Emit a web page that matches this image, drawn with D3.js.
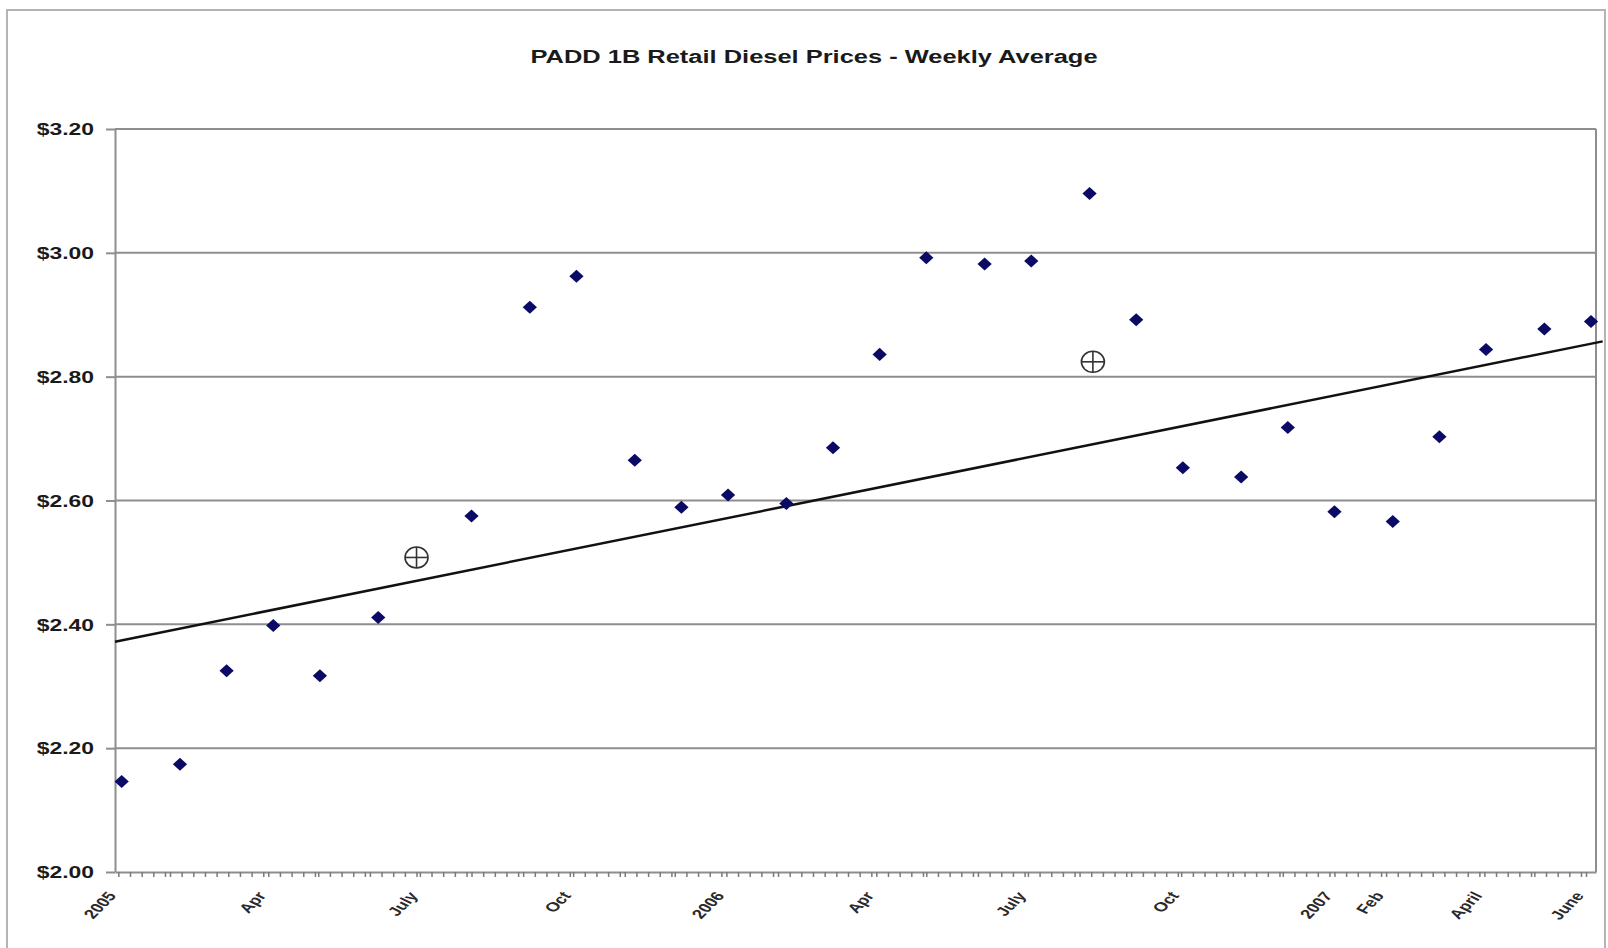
<!DOCTYPE html>
<html>
<head>
<meta charset="utf-8">
<script src="https://d3js.org/d3.v7.min.js"></script>
<style>
  html, body { margin: 0; padding: 0; background: #ffffff; }
  svg { display: block; font-family: "Liberation Sans", Arial, sans-serif; }
</style>
</head>
<body>
<script>
// Weekly retail diesel price, first Monday of each month (USD per gallon)
const priceDates = [
  "2005-01-03","2005-02-07","2005-03-07","2005-04-04","2005-05-02","2005-06-06",
  "2005-08-01","2005-09-05","2005-10-03","2005-11-07","2005-12-05",
  "2006-01-02","2006-02-06","2006-03-06","2006-04-03","2006-05-01","2006-06-05",
  "2006-07-03","2006-08-07","2006-09-04","2006-10-02","2006-11-06","2006-12-04",
  "2007-01-01","2007-02-05","2007-03-05","2007-04-02","2007-05-07","2007-06-04"
];
const priceValues = [
  2.146, 2.174, 2.325, 2.398, 2.317, 2.411,
  2.575, 2.912, 2.962, 2.665, 2.589,
  2.609, 2.595, 2.685, 2.836, 2.992, 2.982,
  2.987, 3.096, 2.892, 2.653, 2.638, 2.718,
  2.582, 2.566, 2.703, 2.844, 2.877, 2.889
];

// Linear trend, given by its two end values
const trendDates = ["2004-12-30", "2007-06-11"];
const trendValues = [2.372, 2.857];

// Circled-cross reference markers
const markerDates = ["2005-06-29", "2006-08-09"];
const markerValues = [2.508, 2.824];

// Axis ticks and labels
const yTickValues = [2.0, 2.2, 2.4, 2.6, 2.8, 3.0, 3.2];
const xLabelDates = ["2005-01-01","2005-04-01","2005-07-01","2005-10-01",
                     "2006-01-01","2006-04-01","2006-07-01","2006-10-01",
                     "2007-01-01","2007-02-01","2007-04-01","2007-06-01"];
const xLabelTexts = ["2005","Apr","July","Oct","2006","Apr","July","Oct",
                     "2007","Feb","April","June"];
const axisStart = "2004-12-30";
const axisEnd = "2007-06-07";

const chartTitle = "PADD 1B Retail Diesel Prices - Weekly Average";

// ---------------------------------------------------------------
const W = 1608, H = 948;
const plot = { left: 115, right: 1596, top: 129, bottom: 872 };
const stretch = 1.43;           // horizontal text widening
const gridColor = "#8e8e8e";

const parse = d3.utcParse("%Y-%m-%d");

const x = d3.scaleUtc()
  .domain([parse(axisStart), parse(axisEnd)])
  .range([plot.left, plot.right]);
const y = d3.scaleLinear()
  .domain([d3.min(yTickValues), d3.max(yTickValues)])
  .range([plot.bottom, plot.top]);

const svg = d3.select("body").append("svg")
  .attr("width", W).attr("height", H);

svg.append("rect").attr("width", W).attr("height", H).attr("fill", "#ffffff");

// chart frame
svg.append("rect")
  .attr("x", 7).attr("y", 10)
  .attr("width", 1598).attr("height", 960)
  .attr("fill", "none").attr("stroke", "#b4b4b4").attr("stroke-width", 2);

// title
svg.append("text")
  .attr("transform", `translate(814,57) scale(${stretch},1)`)
  .attr("text-anchor", "middle")
  .attr("dominant-baseline", "central")
  .attr("font-size", 17.8)
  .attr("font-weight", "bold")
  .attr("fill", "#1a1a1a")
  .text(chartTitle);

// horizontal gridlines
svg.append("g").selectAll("line")
  .data(yTickValues.filter(v => v > y.domain()[0]))
  .join("line")
  .attr("x1", plot.left).attr("x2", plot.right)
  .attr("y1", d => y(d)).attr("y2", d => y(d))
  .attr("stroke", gridColor).attr("stroke-width", 2);

// right edge of plot area
svg.append("line")
  .attr("x1", plot.right).attr("x2", plot.right)
  .attr("y1", plot.top).attr("y2", plot.bottom)
  .attr("stroke", gridColor).attr("stroke-width", 2);

// y axis
const yAxis = svg.append("g")
  .attr("transform", `translate(${plot.left},0)`)
  .call(d3.axisLeft(y).tickValues(yTickValues).tickSize(9).tickSizeOuter(0)
        .tickFormat(d => "$" + d.toFixed(2)));
yAxis.select(".domain").attr("stroke", gridColor).attr("stroke-width", 2);
yAxis.selectAll(".tick line").attr("stroke", gridColor).attr("stroke-width", 2);
yAxis.selectAll(".tick text")
  .attr("x", null).attr("dy", null)
  .attr("transform", `translate(-21,0) scale(${stretch},1)`)
  .attr("dominant-baseline", "central")
  .attr("font-size", 16)
  .attr("font-weight", "bold")
  .attr("font-family", "'Liberation Sans', Arial, sans-serif")
  .attr("fill", "#1a1a1a");

// x axis with weekly minor ticks
const weekTicks = d3.utcDay.every(7).range(parse(axisStart), d3.utcDay.offset(parse(axisEnd), 1));
const xAxis = svg.append("g")
  .attr("transform", `translate(0,${plot.bottom})`)
  .call(d3.axisBottom(x).tickValues(weekTicks).tickSize(5).tickSizeOuter(0).tickFormat(""));
xAxis.select(".domain").attr("stroke", gridColor).attr("stroke-width", 2);
xAxis.selectAll(".tick line").attr("stroke", "#7a7a7a").attr("stroke-width", 1.5);

// rotated month / year labels
svg.append("g").selectAll("text")
  .data(xLabelDates.map((d, i) => ({ date: parse(d), label: xLabelTexts[i] })))
  .join("text")
  .attr("transform", d => `translate(${x(d.date) - 7},${plot.bottom + 21}) scale(${stretch},1) rotate(-55)`)
  .attr("text-anchor", "end")
  .attr("dominant-baseline", "central")
  .attr("font-size", 13)
  .attr("font-weight", "bold")
  .attr("fill", "#2a2a2a")
  .text(d => d.label);

// trend line
const trend = trendDates.map((d, i) => ({ date: parse(d), value: trendValues[i] }));
svg.append("path")
  .datum(trend)
  .attr("d", d3.line().x(d => x(d.date)).y(d => y(d.value)))
  .attr("fill", "none").attr("stroke", "#111111").attr("stroke-width", 2.5);

// diamond markers for the weekly prices
const rhombus = {
  draw(ctx, size) {
    const w = Math.sqrt(size) * 0.68, h = Math.sqrt(size) * 0.62;
    ctx.moveTo(0, -h); ctx.lineTo(w, 0); ctx.lineTo(0, h); ctx.lineTo(-w, 0); ctx.closePath();
  }
};
const prices = priceDates.map((d, i) => ({ date: parse(d), value: priceValues[i] }));
svg.append("g").selectAll("path")
  .data(prices)
  .join("path")
  .attr("transform", d => `translate(${x(d.date)},${y(d.value)})`)
  .attr("d", d3.symbol().type(rhombus).size(110))
  .attr("fill", "#0b0b66");

// circled-cross markers
const markers = markerDates.map((d, i) => ({ date: parse(d), value: markerValues[i] }));
const mk = svg.append("g").selectAll("g")
  .data(markers)
  .join("g")
  .attr("transform", d => `translate(${x(d.date)},${y(d.value)})`)
  .attr("stroke", "#333333").attr("stroke-width", 1.6).attr("fill", "none");
mk.append("ellipse").attr("rx", 11.5).attr("ry", 10.5).attr("fill", "#ffffff");
mk.append("line").attr("x1", -11.5).attr("x2", 11.5);
mk.append("line").attr("y1", -10.5).attr("y2", 10.5);
</script>
</body>
</html>
